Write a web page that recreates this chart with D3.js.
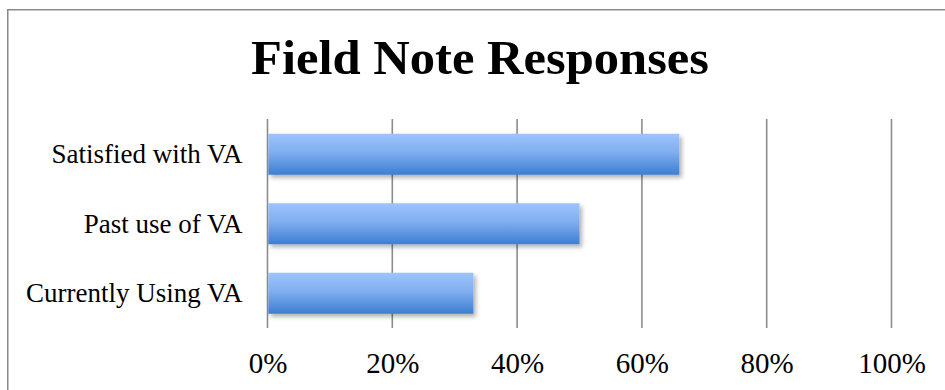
<!DOCTYPE html>
<html>
<head>
<meta charset="utf-8">
<script src="https://cdn.jsdelivr.net/npm/d3@7/dist/d3.min.js"></script>
<style>
  html, body { margin: 0; padding: 0; background: #fff; }
  svg { display: block; }
</style>
</head>
<body>
<svg id="chart" width="945" height="390"></svg>
<script>
const title = "Field Note Responses";
const categories = ["Satisfied with VA", "Past use of VA", "Currently Using VA"];
const values = [66, 50, 33];
const tickValues = [0, 20, 40, 60, 80, 100];
const tickLabels = ["0%", "20%", "40%", "60%", "80%", "100%"];

const svg = d3.select("#chart");
const serif = "'Liberation Serif', 'DejaVu Serif', serif";

const defs = svg.append("defs");
const grad = defs.append("linearGradient")
  .attr("id", "barGrad").attr("x1", 0).attr("y1", 0).attr("x2", 0).attr("y2", 1);
grad.append("stop").attr("offset", "0%").attr("stop-color", "#9dc4fc");
grad.append("stop").attr("offset", "45%").attr("stop-color", "#80aef0");
grad.append("stop").attr("offset", "100%").attr("stop-color", "#3e7ed0");
const filt = defs.append("filter").attr("id", "shadow")
  .attr("x", "-5%").attr("y", "-20%").attr("width", "115%").attr("height", "160%");
filt.append("feDropShadow").attr("dx", 2.5).attr("dy", 3).attr("stdDeviation", 2)
  .attr("flood-color", "#000").attr("flood-opacity", 0.3);

// frame
svg.append("rect").attr("x", 7.75).attr("y", 9.75).attr("width", 1000).attr("height", 1000)
  .attr("fill", "none").attr("stroke", "#8a8a8a").attr("stroke-width", 1.5);

const x = d3.scaleLinear().domain([0, 100]).range([267.5, 891.5]);
const y = d3.scaleBand().domain(categories).range([119.5, 328])
  .paddingInner(0.41).paddingOuter(0.205);

// title
svg.append("text")
  .attr("x", 251).attr("y", 74)
  .attr("font-family", serif).attr("font-weight", "bold").attr("font-size", 48)
  .attr("textLength", 458).attr("lengthAdjust", "spacingAndGlyphs")
  .attr("fill", "#000").text(title);

// gridlines
svg.append("g").selectAll("line").data(tickValues).join("line")
  .attr("x1", d => x(d)).attr("x2", d => x(d))
  .attr("y1", 119).attr("y2", 328)
  .attr("stroke", "#8c8c8c").attr("stroke-width", 1.6);

// bars
svg.append("g").selectAll("rect").data(values).join("rect")
  .attr("x", x(0) + 0.8)
  .attr("y", (d, i) => y(categories[i]))
  .attr("width", d => x(d) - x(0) - 0.8)
  .attr("height", y.bandwidth())
  .attr("fill", "url(#barGrad)")
  .attr("filter", "url(#shadow)");

// x axis labels
const xAxis = d3.axisBottom(x).tickValues(tickValues)
  .tickFormat((d, i) => tickLabels[i]).tickSize(0).tickPadding(0);
const gx = svg.append("g").attr("transform", "translate(0,352)").call(xAxis);
gx.select(".domain").remove();
gx.selectAll("text")
  .attr("font-family", serif).attr("font-size", 29).attr("fill", "#000")
  .attr("dy", "0.71em");

// y axis labels
const yAxis = d3.axisLeft(y).tickSize(0).tickPadding(25);
const gy = svg.append("g").attr("transform", `translate(${x(0)},0)`).call(yAxis);
gy.select(".domain").remove();
gy.selectAll("text")
  .attr("font-family", serif).attr("font-size", 27).attr("fill", "#000")
  .attr("dy", "0.34em");
</script>
</body>
</html>
